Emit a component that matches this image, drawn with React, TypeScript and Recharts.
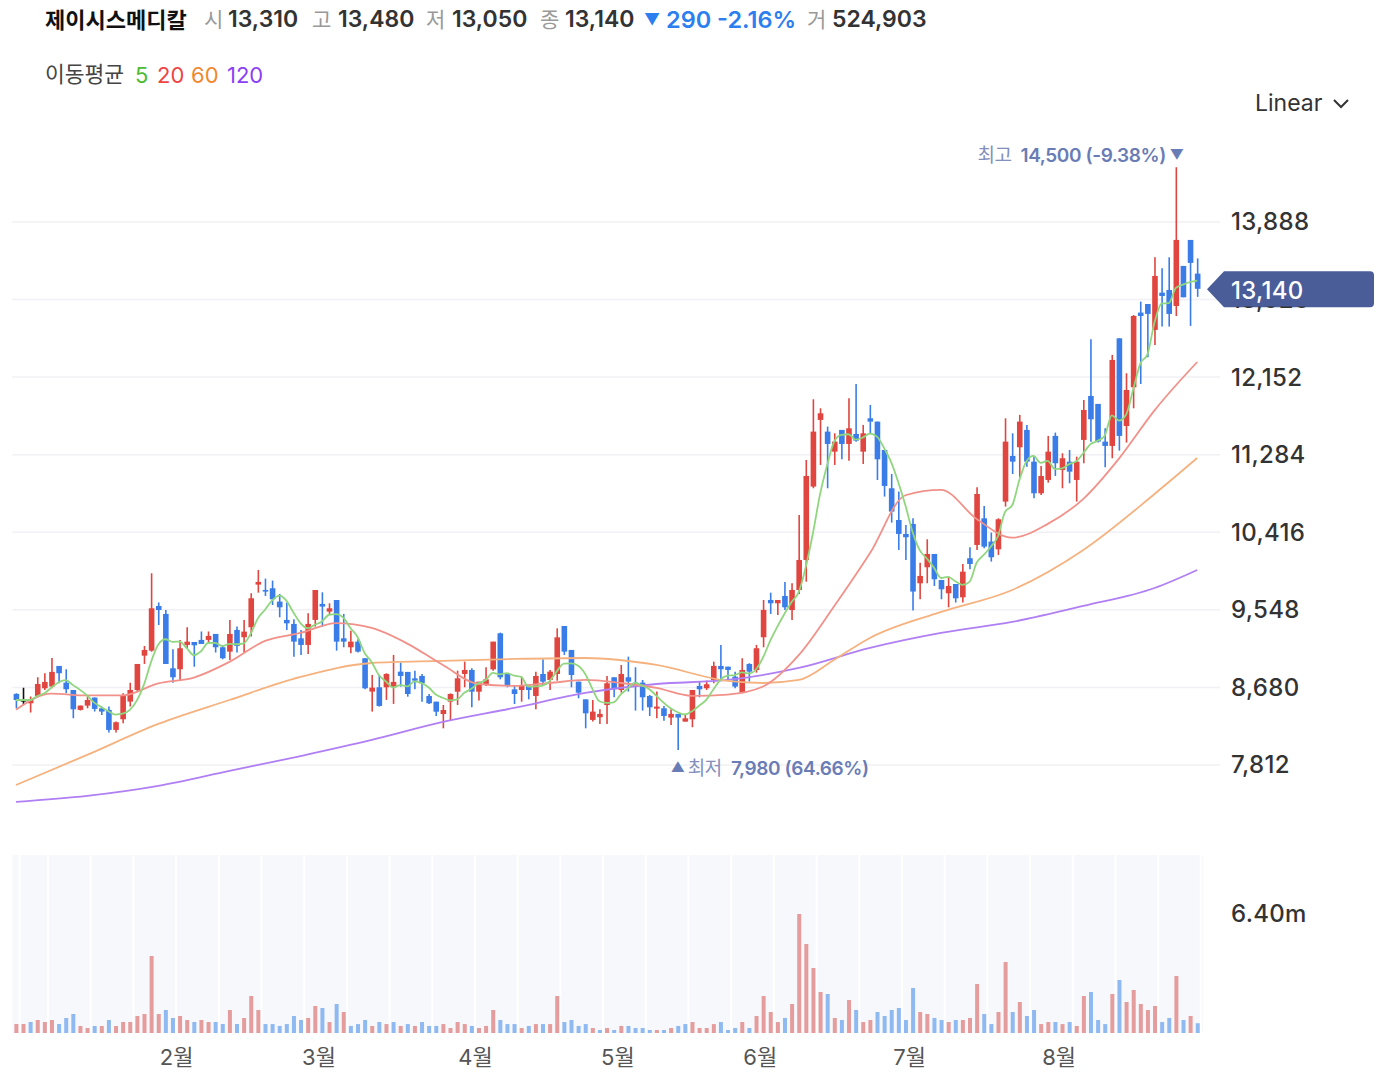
import React from "react";
import { ComposedChart, Bar, Line, XAxis, YAxis, CartesianGrid, ReferenceLine, ReferenceDot, Cell } from "recharts";

const FONT = 'Inter, "Noto Sans CJK KR", "Noto Sans", sans-serif';
const RED = "#e0453f";
const BLUE = "#3a7de8";

// 거래일 (월별 일수)
const months = ["1월", "2월", "3월", "4월", "5월", "6월", "7월", "8월"];
const monthDays = [23, 20, 22, 20, 20, 21, 21, 20];

const opens = [
  8607, 8539, 8502, 8584, 8670, 8689, 8920, 8733, 8651, 8428,
  8476, 8566, 8446, 8428, 8204, 8323, 8521, 8651, 9035, 9091,
  9591, 9502, 8894, 8883, 9155, 9188, 9211, 9211, 9278, 9129,
  9080, 9323, 9241, 9353, 9830, 9770, 9789, 9640, 9435, 9390,
  9229, 9155, 9435, 9614, 9528, 9658, 9229, 9129, 9192, 9006,
  8633, 8681, 8681, 8689, 8856, 8853, 8781, 8808, 8584, 8520,
  8382, 8520, 8632, 8830, 8875, 8632, 8707, 8882, 9285, 8830,
  8658, 8651, 8696, 8584, 8830, 8763, 8830, 9367, 9099, 8744,
  8546, 8316, 8346, 8483, 8793, 8651, 8793, 8733, 8733, 8584,
  8442, 8446, 8342, 8383, 8297, 8323, 8696, 8670, 8763, 8920,
  8912, 8800, 8622, 8942, 8875, 9241, 9658, 9621, 9703, 9546,
  9770, 10106, 10927, 11673, 11542, 11318, 11561, 11404, 11516, 11318,
  11691, 11654, 11337, 10908, 10553, 10397, 10509, 9845, 10024, 10173,
  9882, 9733, 9837, 9688, 10125, 10274, 10572, 10311, 10225, 10759,
  11270, 11367, 11561, 11206, 10852, 11001, 11494, 11113, 11206, 11001,
  11449, 11941, 11852, 11430, 11382, 12586, 11605, 12038, 12874, 12970,
  12680, 13097, 13127, 12948, 13396, 13687, 13310,
];
const highs = [
  8614, 8677, 8577, 8793, 8838, 9009, 8920, 8883, 8651, 8476,
  8595, 8566, 8465, 8465, 8297, 8614, 8733, 8942, 9144, 9957,
  9629, 9546, 9106, 9211, 9353, 9188, 9304, 9304, 9278, 9155,
  9435, 9360, 9435, 9733, 9994, 9897, 9875, 9725, 9629, 9442,
  9323, 9509, 9770, 9744, 9621, 9658, 9502, 9315, 9218, 9006,
  8819, 8819, 8838, 9043, 8957, 8853, 8867, 8830, 8606, 8520,
  8483, 8613, 8867, 8968, 8893, 8744, 8905, 9192, 9293, 8830,
  8707, 8800, 8696, 8856, 8994, 8875, 9341, 9367, 9099, 8744,
  8546, 8539, 8435, 8808, 8793, 8931, 9024, 8905, 8763, 8595,
  8633, 8472, 8435, 8383, 8383, 8651, 8744, 8756, 8968, 9155,
  8912, 8856, 9006, 8950, 9155, 9658, 9740, 9658, 9860, 9845,
  10609, 11225, 11904, 11803, 11598, 11523, 11561, 11915, 12075, 11617,
  11840, 11654, 11337, 11068, 10871, 10498, 10572, 10076, 10337, 10173,
  9882, 9919, 9837, 10061, 10248, 10919, 10710, 10412, 10572, 11691,
  11523, 11729, 11617, 11262, 11158, 11494, 11531, 11300, 11337, 11262,
  11896, 12575, 11852, 11579, 12400, 12586, 12195, 12847, 12997, 12970,
  13493, 13370, 13493, 14500, 13396, 13687, 13480,
];
const lows = [
  8446, 8483, 8398, 8577, 8651, 8670, 8726, 8614, 8334, 8420,
  8446, 8409, 8372, 8174, 8174, 8278, 8465, 8640, 8942, 9080,
  9379, 8942, 8733, 8763, 9118, 8912, 9166, 9173, 9069, 8994,
  8987, 9069, 9069, 9248, 9740, 9703, 9602, 9464, 9323, 9024,
  9043, 9054, 9360, 9360, 9502, 9091, 9129, 9062, 9069, 8659,
  8409, 8465, 8540, 8495, 8688, 8576, 8658, 8520, 8494, 8360,
  8222, 8308, 8483, 8681, 8457, 8532, 8696, 8867, 8770, 8681,
  8494, 8520, 8546, 8435, 8696, 8651, 8755, 9043, 8681, 8558,
  8222, 8297, 8271, 8271, 8569, 8621, 8633, 8420, 8420, 8360,
  8334, 8308, 8260, 7980, 8297, 8234, 8569, 8651, 8726, 8763,
  8756, 8670, 8614, 8745, 8845, 9129, 9502, 9491, 9546, 9435,
  9725, 9863, 10908, 11169, 10908, 11169, 11232, 11217, 11430, 11180,
  11523, 11001, 10815, 10524, 10218, 10106, 9539, 9666, 9845, 9815,
  9666, 9576, 9629, 9629, 10002, 10218, 10237, 10088, 10162, 10703,
  11068, 11031, 11150, 10796, 10834, 10971, 11046, 10908, 10964, 10759,
  11188, 11430, 11419, 11143, 11244, 11329, 11419, 11803, 12075, 12374,
  12512, 12717, 12717, 12836, 13045, 12725, 13050,
];
const closes = [
  8539, 8539, 8539, 8718, 8741, 8853, 8838, 8659, 8435, 8476,
  8539, 8439, 8409, 8204, 8290, 8584, 8651, 8942, 9099, 9565,
  9546, 8942, 8793, 9118, 9192, 9151, 9166, 9256, 9129, 9006,
  9278, 9144, 9304, 9677, 9860, 9755, 9666, 9576, 9397, 9192,
  9155, 9390, 9770, 9584, 9565, 9192, 9192, 9192, 9080, 8670,
  8677, 8472, 8830, 8741, 8808, 8606, 8755, 8726, 8502, 8408,
  8427, 8606, 8781, 8875, 8632, 8744, 8770, 9192, 8793, 8696,
  8606, 8696, 8651, 8808, 8744, 8856, 9240, 9080, 8819, 8621,
  8390, 8409, 8383, 8726, 8659, 8830, 8745, 8696, 8569, 8457,
  8465, 8360, 8383, 8342, 8334, 8651, 8659, 8715, 8920, 8883,
  8875, 8689, 8875, 8856, 9118, 9547, 9621, 9658, 9576, 9770,
  10106, 11046, 11542, 11747, 11404, 11430, 11404, 11579, 11441, 11523,
  11654, 11232, 10934, 10647, 10397, 10360, 9752, 9927, 10173, 9890,
  9778, 9815, 9677, 9975, 10061, 10844, 10255, 10136, 10561, 11430,
  11206, 11654, 11206, 10852, 11046, 11318, 11188, 11244, 11094, 11206,
  11784, 11680, 11430, 11382, 12344, 11494, 12008, 12836, 12836, 12859,
  13284, 13060, 12859, 13687, 13045, 13430, 13140,
];

// 거래량 (백만 주)
const volumes = [
  0.48, 0.48, 0.59, 0.7, 0.59, 0.7, 0.48, 0.81, 1.02, 0.38,
  0.27, 0.38, 0.38, 0.7, 0.38, 0.59, 0.59, 0.91, 1.02, 4.14,
  1.02, 1.24, 0.81, 0.91, 0.7, 0.59, 0.7, 0.59, 0.59, 0.48,
  1.24, 0.48, 0.81, 1.99, 1.24, 0.48, 0.48, 0.38, 0.48, 0.91,
  0.7, 0.81, 1.45, 1.34, 0.59, 1.56, 1.13, 0.38, 0.48, 0.7,
  0.38, 0.59, 0.48, 0.59, 0.38, 0.48, 0.38, 0.59, 0.38, 0.38,
  0.48, 0.27, 0.59, 0.48, 0.38, 0.27, 0.38, 1.24, 0.7, 0.48,
  0.48, 0.27, 0.38, 0.48, 0.48, 0.48, 1.99, 0.59, 0.7, 0.38,
  0.48, 0.27, 0.16, 0.27, 0.16, 0.38, 0.38, 0.27, 0.27, 0.16,
  0.16, 0.16, 0.27, 0.38, 0.48, 0.59, 0.27, 0.27, 0.48, 0.59,
  0.16, 0.27, 0.59, 0.27, 0.91, 1.99, 1.13, 0.59, 0.81, 1.56,
  6.4, 4.79, 3.5, 2.2, 2.1, 0.81, 0.7, 1.77, 1.24, 0.59,
  0.7, 1.13, 0.91, 1.24, 1.34, 0.7, 2.42, 1.13, 1.02, 0.81,
  0.7, 0.59, 0.7, 0.7, 0.81, 2.64, 1.02, 0.48, 1.13, 3.82,
  1.13, 1.67, 0.91, 1.24, 0.48, 0.59, 0.59, 0.48, 0.59, 0.38,
  1.99, 2.2, 0.7, 0.48, 2.1, 2.85, 1.67, 2.31, 1.56, 1.24,
  1.45, 0.59, 0.81, 3.07, 0.7, 0.91, 0.525,
];
// 전일 대비 상승(1) / 하락(0)
const volumeUp = [
  1, 1, 0, 1, 1, 1, 0, 0, 0, 1,
  1, 0, 1, 0, 1, 1, 1, 1, 1, 1,
  1, 0, 0, 1, 1, 0, 1, 1, 0, 0,
  1, 0, 1, 1, 1, 0, 0, 0, 0, 0,
  0, 1, 1, 0, 1, 0, 1, 0, 0, 0,
  1, 0, 1, 0, 1, 0, 1, 0, 0, 0,
  1, 1, 1, 1, 0, 1, 1, 1, 0, 0,
  0, 1, 0, 1, 0, 1, 1, 0, 0, 0,
  0, 1, 0, 1, 0, 1, 0, 0, 0, 0,
  1, 0, 1, 0, 0, 1, 1, 1, 1, 0,
  0, 0, 1, 0, 1, 1, 1, 1, 0, 1,
  1, 1, 1, 1, 0, 1, 0, 1, 0, 1,
  1, 0, 0, 0, 0, 0, 0, 1, 1, 0,
  0, 1, 0, 1, 1, 1, 0, 0, 1, 1,
  0, 1, 0, 0, 1, 1, 0, 1, 0, 1,
  1, 0, 0, 0, 1, 0, 1, 1, 1, 1,
  1, 0, 0, 1, 0, 1, 0,
];

// 이동평균선 (읽어낸 값: [거래일 인덱스, 가격])
const ma20Points = [
  [0, 8430], [5, 8610], [10, 8590], [15, 8590], [20, 8725], [25, 8790], [30, 8965],
  [35, 9200], [40, 9289], [45, 9400], [50, 9345], [55, 9170], [60, 8930], [65, 8718],
  [70, 8696], [75, 8729], [80, 8763], [85, 8729], [90, 8675], [95, 8585], [100, 8600],
  [105, 8690], [110, 9040], [115, 9590], [120, 10180], [125, 10830], [130, 10890],
  [135, 10565], [140, 10355], [145, 10510], [150, 10790], [155, 11240], [160, 11780], [166, 12321],
];
const ma60Points = [
  [0, 7588], [10, 7924], [20, 8271], [30, 8539], [40, 8797], [50, 8953], [60, 8976],
  [70, 8998], [80, 9009], [90, 8931], [100, 8752], [105, 8729], [110, 8763], [115, 8990],
  [120, 9233], [130, 9524], [140, 9770], [150, 10218], [160, 10844], [166, 11247],
];
const ma120Points = [
  [0, 7398], [10, 7465], [20, 7577], [30, 7745], [40, 7912], [50, 8092], [60, 8293],
  [70, 8450], [80, 8618], [90, 8718], [100, 8763], [110, 8897], [120, 9121], [130, 9289],
  [140, 9412], [150, 9591], [160, 9792], [166, 9994],
];

const priceTicks = [7812, 8680, 9548, 10416, 11284, 12152, 13020, 13888];
const volumeTicks = [6.4];
const lastClose = 13140;

const dates: string[] = [];
const monthStarts: number[] = [];
monthDays.forEach((n, m) => {
  monthStarts.push(dates.length);
  for (let d = 0; d < n; d++) dates.push(`${m + 1}/${d + 1}`);
});

const candles = dates.map((date, i) => {
  const win = closes.slice(Math.max(0, i - 4), i + 1);
  return {
    i,
    date,
    open: opens[i],
    high: highs[i],
    low: lows[i],
    close: closes[i],
    range: [lows[i], highs[i]],
    ma5: win.reduce((a, b) => a + b, 0) / win.length,
    vol: volumes[i],
    up: volumeUp[i],
  };
});

const toLine = (pts: number[][]) => pts.map(([i, v]) => ({ i, v }));
const volGrid = Array.from({ length: 84 }, (_, k) => k * 2 + 0.5);

const Candle = (props: any) => {
  const { x, y, width, height, payload } = props;
  const { open, close, high, low } = payload;
  const top = Math.min(y, y + height);
  const h = Math.abs(height);
  const cx = x + width / 2;
  const k = high === low ? 0 : h / (high - low);
  const py = (v: number) => top + (high - v) * k;
  const color = close > open ? RED : close < open ? BLUE : "#111";
  const bTop = py(Math.max(open, close));
  const bBot = py(Math.min(open, close));
  return (
    <g>
      <line x1={cx} x2={cx} y1={top} y2={top + h} stroke={color} strokeWidth={1.6} />
      <rect x={cx - 2.8} y={bTop} width={5.6} height={Math.max(bBot - bTop, 1.6)} fill={color} />
    </g>
  );
};

// 현재가 배지에 가려지는 눈금은 아랫부분만 보이게 자른다
const PriceTick = ({ y, payload }: any) => {
  const hidden = payload.value === 13020;
  return (
    <g>
      {hidden && (
        <clipPath id="under-badge">
          <rect x={1220} y={y + 7} width={120} height={20} />
        </clipPath>
      )}
      <text
        x={1231}
        y={y}
        dominantBaseline="central"
        fontSize={24}
        letterSpacing={0.3}
        fontWeight={500}
        fill="#333"
        fontFamily={FONT}
        clipPath={hidden ? "url(#under-badge)" : undefined}
      >
        {payload.value.toLocaleString("en-US")}
      </text>
    </g>
  );
};

const VolTick = ({ y, payload }: any) => (
  <text x={1231} y={y} dominantBaseline="central" fontSize={24} letterSpacing={0.3} fontWeight={500} fill="#333" fontFamily={FONT}>
    {payload.value.toFixed(2)}m
  </text>
);

const MonthTick = ({ x, payload }: any) => (
  <text x={x - 3} y={217} textAnchor="middle" dominantBaseline="central" fontSize={22} fill="#555" fontFamily={FONT}>
    {months[monthStarts.indexOf(payload.value)]}
  </text>
);

const PriceBadge = (props: any) => {
  const { viewBox } = props;
  const tip = viewBox.x + viewBox.width - 13;
  const cy = viewBox.y + 0.5;
  return (
    <g>
      <path
        d={`M${tip},${cy} L${tip + 17},${cy - 18} L${tip + 163},${cy - 18} Q${tip + 167},${cy - 18} ${tip + 167},${cy - 14} L${tip + 167},${cy + 14} Q${tip + 167},${cy + 18} ${tip + 163},${cy + 18} L${tip + 17},${cy + 18} Z`}
        fill="#4a5d99"
      />
      <text x={tip + 24} y={cy + 1} dominantBaseline="central" fontSize={24} letterSpacing={0.3} fontWeight={500} fill="#fff" fontFamily={FONT}>
        {lastClose.toLocaleString("en-US")}
      </text>
    </g>
  );
};

const HighMark = ({ cx, cy }: any) => (
  <g fontFamily={FONT} fontSize={19} fill="#6a7cb5">
    <text x={cx - 10} y={cy - 12} textAnchor="end" dominantBaseline="central" letterSpacing={-0.4}>
      <tspan fill="#8390bb">최고</tspan>
      <tspan dx={9} fontWeight={600}>14,500 (-9.38%)</tspan>
    </text>
    <text x={cx + 1} y={cy - 13} textAnchor="middle" dominantBaseline="central" fontSize={14}>▼</text>
  </g>
);

const LowMark = ({ cx, cy }: any) => (
  <g fontFamily={FONT} fontSize={19} fill="#6a7cb5">
    <text x={cx} y={cy + 17} textAnchor="middle" dominantBaseline="central" fontSize={14}>▲</text>
    <text x={cx + 10} y={cy + 18} dominantBaseline="central" letterSpacing={-0.4}>
      <tspan fill="#8390bb">최저</tspan>
      <tspan dx={9} fontWeight={600}>7,980 (64.66%)</tspan>
    </text>
  </g>
);

const Txt = ({ x, y, size = 23, color = "#333", weight = 400, children }: any) => (
  <span style={{ position: "absolute", left: x, top: y - size * 0.6, fontSize: size, lineHeight: `${size * 1.2}px`, color, fontWeight: weight, whiteSpace: "nowrap" }}>
    {children}
  </span>
);

export default function App() {
  return (
    <div style={{ position: "absolute", left: 0, top: 0, width: 1388, height: 1076, background: "#fff", fontFamily: FONT, overflow: "hidden" }}>
      <Txt x={45} y={20} weight={700} color="#111" size={22}>제이시스메디칼</Txt>
      <Txt x={204} y={20} color="#999" size={21}>시</Txt>
      <Txt x={228} y={20} weight={600}>13,310</Txt>
      <Txt x={312} y={20} color="#999" size={21}>고</Txt>
      <Txt x={338} y={20} weight={600}>13,480</Txt>
      <Txt x={426} y={20} color="#999" size={21}>저</Txt>
      <Txt x={452} y={20} weight={600}>13,050</Txt>
      <Txt x={540} y={20} color="#999" size={21}>종</Txt>
      <Txt x={565} y={20} weight={600}>13,140</Txt>
      <Txt x={644} y={20} color="#2d7ff0" size={16}>▼</Txt>
      <Txt x={666} y={20} weight={600} color="#2d7ff0" size={23.5}>290 -2.16%</Txt>
      <Txt x={807} y={20} color="#999" size={21}>거</Txt>
      <Txt x={832} y={20} weight={600}>524,903</Txt>

      <Txt x={45} y={75} size={21.5} color="#444">이동평균</Txt>
      <Txt x={135} y={75} size={22} color="#4cbb33">5</Txt>
      <Txt x={157} y={75} size={22} color="#ef4444">20</Txt>
      <Txt x={191} y={75} size={22} color="#f0882e">60</Txt>
      <Txt x={227} y={75} size={22} color="#8b3ff5">120</Txt>

      <Txt x={1255} y={104} size={23} color="#333">Linear</Txt>
      <svg style={{ position: "absolute", left: 1332, top: 97 }} width={20} height={14}>
        <path d="M2,3 L9,10 L16,3" stroke="#333" strokeWidth={2} fill="none" />
      </svg>

      <div style={{ position: "absolute", left: 0, top: 0 }}>
        <ComposedChart width={1388} height={840} data={candles} margin={{ top: 120, right: 48, bottom: 20, left: 12.4 }}>
          <CartesianGrid horizontal vertical={false} horizontalValues={priceTicks} stroke="#f0f0f5" strokeWidth={1.5} />
          <XAxis dataKey="i" type="number" domain={[-0.5, 169.2]} hide allowDataOverflow />
          <YAxis
            orientation="right"
            width={120}
            domain={[7196, 15029]}
            ticks={priceTicks}
            tick={<PriceTick />}
            axisLine={false}
            tickLine={false}
            allowDataOverflow
          />
          <Bar dataKey="range" barSize={6} shape={<Candle />} isAnimationActive={false} />
          <Line data={toLine(ma120Points)} dataKey="v" type="monotone" stroke="#b07ff4" strokeWidth={1.8} dot={false} isAnimationActive={false} />
          <Line data={toLine(ma60Points)} dataKey="v" type="monotone" stroke="#f5b27f" strokeWidth={1.8} dot={false} isAnimationActive={false} />
          <Line data={toLine(ma20Points)} dataKey="v" type="monotone" stroke="#f29189" strokeWidth={1.8} dot={false} isAnimationActive={false} />
          <Line dataKey="ma5" type="monotone" stroke="#90d67f" strokeWidth={1.8} dot={false} isAnimationActive={false} />
          <ReferenceDot x={163} y={14500} r={0} shape={<HighMark />} />
          <ReferenceDot x={93} y={7980} r={0} shape={<LowMark />} />
          <ReferenceLine y={lastClose} stroke="none" label={<PriceBadge />} />
        </ComposedChart>
      </div>

      <Txt x={45} y={880} size={23} color="#333">
        거래량 <span style={{ fontWeight: 700, color: "#111" }}>524,903</span>
      </Txt>

      <div style={{ position: "absolute", left: 0, top: 840 }}>
        <ComposedChart width={1388} height={236} data={candles} margin={{ top: 15, right: 65, bottom: 13, left: 12.4 }}>
          <CartesianGrid horizontal={false} vertical fill="#f7f8fc" stroke="#ffffff" strokeWidth={2} verticalValues={volGrid} />
          <XAxis
            dataKey="i"
            type="number"
            domain={[-0.5, 166.8]}
            ticks={monthStarts.slice(1)}
            tick={<MonthTick />}
            axisLine={false}
            tickLine={false}
            height={30}
            allowDataOverflow
          />
          <YAxis
            orientation="right"
            width={120}
            domain={[0, 9.573]}
            ticks={volumeTicks}
            tick={<VolTick />}
            axisLine={false}
            tickLine={false}
            allowDataOverflow
          />
          <Bar dataKey="vol" barSize={4} isAnimationActive={false}>
            {candles.map((c) => (
              <Cell key={c.i} fill={c.up ? "#e59c9c" : "#8fb9f1"} />
            ))}
          </Bar>
        </ComposedChart>
      </div>
    </div>
  );
}
